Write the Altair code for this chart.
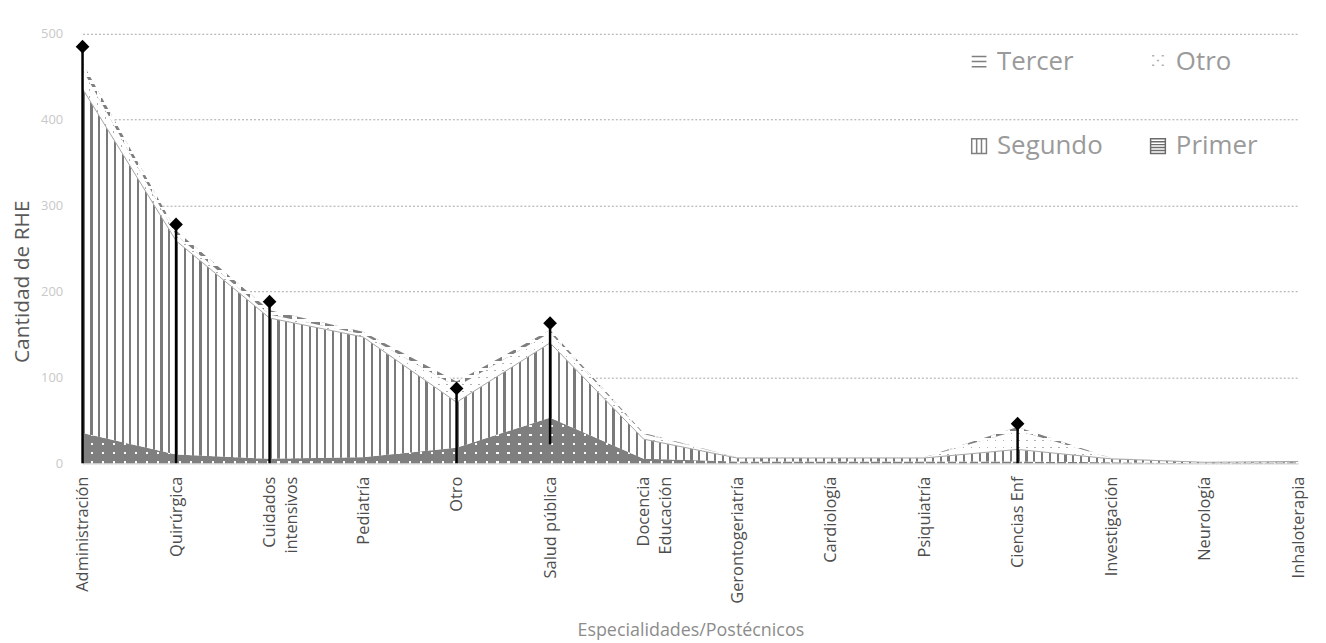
import altair as alt
import pandas as pd

# ---------------- data ----------------
categories = ["Administración", "Quirúrgica", "Cuidados\nintensivos", "Pediatría", "Otro",
              "Salud pública", "Docencia\nEducación", "Gerontogeriatría", "Cardiología",
              "Psiquiatría", "Ciencias Enf", "Investigación", "Neurología", "Inhaloterapia"]
primer  = [35, 10, 5, 7, 18, 53, 5, 2, 2, 2, 2, 1, 0, 1]
segundo = [401, 249, 164, 140, 53, 87, 23, 4, 4, 4, 14, 4, 1, 1]
otro    = [22, 7, 4, 3, 18, 12, 6, 1, 0, 1, 22, 1, 0, 0]
tercer  = [8, 5, 5, 3, 6, 3, 1, 0, 0, 0, 4, 0, 0, 0]

marker_cats = ["Administración", "Quirúrgica", "Cuidados\nintensivos", "Otro", "Salud pública", "Ciencias Enf"]
marker_high = [485, 278, 188, 87, 163, 46]
marker_low  = [0, 0, 0, 0, 22, 0]

# legend order (filled column by column: Tercer/Segundo left, Otro/Primer right)
series = ["Tercer", "Segundo", "Otro", "Primer"]

# ---------------- tables ----------------
df = pd.DataFrame({"cat": categories, "primer": primer, "segundo": segundo,
                   "otro": otro, "tercer": tercer})
df["c0"] = 0
df["c1"] = df["primer"]
df["c2"] = df["c1"] + df["segundo"]
df["c3"] = df["c2"] + df["otro"]
df["c4"] = df["c3"] + df["tercer"]

mk = pd.DataFrame({"cat": marker_cats, "hi": marker_high, "lo": marker_low})
leg = pd.DataFrame({"serie": series})

W, H, YMAX = 1223, 432, 500
PX = H / YMAX


def stripes(period_px, span_px, on_frac, c_on, c_off, vertical=False):
    n = max(1, round(span_px / period_px))
    stops = []
    for i in range(n):
        a = round(i / n, 6)
        b = round((i + on_frac) / n, 6)
        c = min(1.0, round((i + 1) / n, 6))
        stops += [alt.GradientStop(offset=a, color=c_on), alt.GradientStop(offset=b, color=c_on),
                  alt.GradientStop(offset=b, color=c_off), alt.GradientStop(offset=c, color=c_off)]
    if vertical:
        return alt.LinearGradient(gradient="linear", stops=stops, x1=0, x2=0, y1=0, y2=1)
    return alt.LinearGradient(gradient="linear", stops=stops, x1=0, x2=1, y1=0, y2=0)


CLEAR = "rgba(255,255,255,0)"
xenc = alt.X("cat:N", sort=categories, scale=alt.Scale(type="point", padding=0),
             axis=alt.Axis(title="Especialidades/Postécnicos", labelAngle=-90,
                           labelExpr="split(datum.value, '\\n')", labelLineHeight=22,
                           labelFont="Open Sans", labelFontSize=16.5,
                           labelColor="#4d4d4d", labelPadding=13,
                           ticks=False, domainColor="#d9d9d9", domainWidth=1.5,
                           titleFontSize=18, titleColor="#8c8c8c", titleFontWeight="normal",
                           titlePadding=18, grid=False))
yscale = alt.Scale(domain=[0, YMAX], nice=False)


def band(lo, hi, fill):
    return alt.Chart(df).mark_area(fill=fill, interpolate="linear").encode(
        x=xenc,
        y=alt.Y(f"{hi}:Q", scale=yscale,
                axis=alt.Axis(title="Cantidad de RHE", values=[0, 100, 200, 300, 400, 500],
                              grid=True, gridDash=[2, 2], gridColor="#a6a6a6", domain=False,
                              ticks=False, labelColor="#c8c8c8", labelFontSize=13, labelPadding=20,
                              titleFontSize=21, titleColor="#595959", titleFontWeight="normal",
                              titlePadding=8, titleY=249)),
        y2=alt.Y2(f"{lo}:Q"))


h_primer = df["c1"].max() * PX
h_otro = (df["c3"].max() - df["c2"].min()) * PX
h_tercer = (df["c4"].max() - df["c3"].min()) * PX

legend_cfg = dict(title=None, orient="none", legendX=889, legendY=15,
                  columns=2, columnPadding=42, rowPadding=59,
                  labelFontSize=26, labelColor="#9a9a9a", labelOffset=5,
                  symbolSize=220, symbolStrokeWidth=1.5, labelFont="Open Sans")

layers = [
    # Primer: dark grey with white dots
    band("c0", "c1", "white"),
    band("c0", "c1", stripes(11, W, 0.8, "#7f7f7f", CLEAR)),
    band("c0", "c1", stripes(9, h_primer, 0.78, "#7f7f7f", CLEAR, vertical=True)),
    # Segundo: vertical hatch
    band("c1", "c2", stripes(W / 156, W, 0.28, "#7a7a7a", "white")),
    # Otro: light dots
    band("c2", "c3", "#b0b0b0"),
    band("c2", "c3", stripes(8, W, 0.8, "white", CLEAR)),
    band("c2", "c3", stripes(7, h_otro, 0.78, "white", CLEAR, vertical=True)),
    # Tercer: dashed horizontal
    band("c3", "c4", "white"),
    band("c3", "c4", stripes(7, h_tercer, 0.5, "#7f7f7f", "white", vertical=True)),
    band("c3", "c4", stripes(14, W, 0.35, "white", CLEAR)),
    # thin boundary on top of Segundo
    alt.Chart(df).mark_line(color="#a6a6a6", strokeWidth=1).encode(x=xenc, y=alt.Y("c2:Q", scale=yscale)),
    # stems and diamonds
    alt.Chart(mk).mark_rule(color="black", strokeWidth=2.5).encode(
        x=xenc, y=alt.Y("lo:Q", scale=yscale), y2="hi:Q"),
    alt.Chart(mk).mark_point(shape="diamond", filled=True, color="black", size=190, opacity=1).encode(
        x=xenc, y=alt.Y("hi:Q", scale=yscale)),
    # legend only
    alt.Chart(leg).mark_point(filled=False, opacity=1, strokeWidth=1.5).encode(
        color=alt.Color("serie:N", scale=alt.Scale(domain=series,
                        range=["#7f7f7f", "#7f7f7f", "#b0b0b0", "#6b6b6b"]),
                        legend=alt.Legend(**legend_cfg)),
        shape=alt.Shape("serie:N", scale=alt.Scale(domain=series, range=[
            "M-1,-0.7H1M-1,0H1M-1,0.7H1",
            "M-1,-1H1V1H-1ZM-0.33,-1V1M0.33,-1V1",
            "M-0.8,-0.8h0.3M0.5,-0.8h0.3M-0.15,-0.15h0.3M-0.8,0.5h0.3M0.5,0.5h0.3",
            "M-1,-1H1V1H-1ZM-1,-0.6H1M-1,-0.2H1M-1,0.2H1M-1,0.6H1",
        ]), legend=alt.Legend(**legend_cfg)),
    ).transform_filter("false"),
]

chart = alt.layer(*layers).properties(
    width=W, height=H,
    padding={"left": 75, "top": 24, "right": 20, "bottom": 179},
    autosize=alt.AutoSizeParams(type="none"),
).configure(font="Open Sans").configure_view(stroke=None)

chart.save("out.html", embed_options={"renderer": "svg", "actions": False})
